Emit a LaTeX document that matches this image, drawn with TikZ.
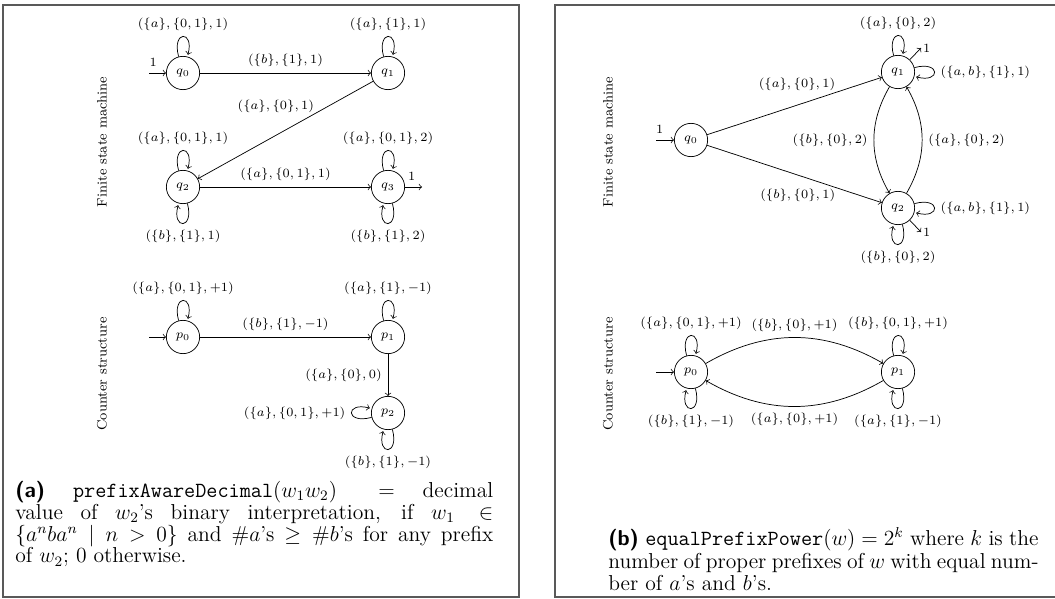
\documentclass[tikz,border=0pt]{standalone}
\usepackage{amssymb}
\begin{document}
\begin{tikzpicture}[x=0.5556pt, y=-0.5556pt,
  st/.style={circle, draw, minimum size=18.5pt, inner sep=0pt, font=\scriptsize},
  lbl/.style={font=\scriptsize},
  side/.style={font=\fontsize{7.6}{9}\selectfont, rotate=90},
  panel/.style={draw=black!65, line width=0.7pt},
  captext/.style={anchor=north west, inner sep=0pt, align=justify}]
\useasboundingbox (0,0) rectangle (1055,599);

% panel frames
\draw[panel] (3,5) rectangle (519,597);
\draw[panel] (555,5) rectangle (1062,597);

% ---- (a) finite state machine
\node[side] (fsma) at (102,142) {Finite state machine};
\node[st] (q0) at (183,73) {$q_0$};
\node[st] (q1) at (388,73) {$q_1$};
\node[st] (q2) at (183,187) {$q_2$};
\node[st] (q3) at (388,187) {$q_3$};
\coordinate (q0in) at (149,73);
\coordinate (q3out) at (422,187);

\draw[->] (q0in) -- node[lbl, above, pos=0.25] (i0) {1} (q0);
\draw[->] (q3) -- node[lbl, above, pos=0.4] (f3) {1} (q3out);
\draw[->] (q0) edge[loop above] node[lbl] (l00) {$(\{a\},\{0,1\},1)$} (q0);
\draw[->] (q1) edge[loop above] node[lbl] (l11) {$(\{a\},\{1\},1)$} (q1);
\draw[->] (q2) edge[loop above] node[lbl] (l22a) {$(\{a\},\{0,1\},1)$} (q2);
\draw[->] (q2) edge[loop below] node[lbl] (l22b) {$(\{b\},\{1\},1)$} (q2);
\draw[->] (q3) edge[loop above] node[lbl] (l33a) {$(\{a\},\{0,1\},2)$} (q3);
\draw[->] (q3) edge[loop below] node[lbl] (l33b) {$(\{b\},\{1\},2)$} (q3);
\draw[->] (q0) -- node[lbl, above] (l01) {$(\{b\},\{1\},1)$} (q1);
\draw[->] (q1) -- node[lbl, pos=0.33, anchor=south east, inner sep=0.5pt] (l12) {$(\{a\},\{0\},1)$} (q2);
\draw[->] (q2) -- node[lbl, above] (l23) {$(\{a\},\{0,1\},1)$} (q3);

% ---- (a) counter structure
\node[side] (csa) at (102,374) {Counter structure};
\node[st] (p0) at (183,337) {$p_0$};
\node[st] (p1) at (388,337) {$p_1$};
\node[st] (p2) at (388,413) {$p_2$};
\coordinate (p0in) at (149,337);

\draw[->] (p0in) -- (p0);
\draw[->] (p0) edge[loop above] node[lbl] (m00) {$(\{a\},\{0,1\},+1)$} (p0);
\draw[->] (p1) edge[loop above] node[lbl] (m11) {$(\{a\},\{1\},-1)$} (p1);
\draw[->] (p2) edge[loop left] node[lbl] (m22a) {$(\{a\},\{0,1\},+1)$} (p2);
\draw[->] (p2) edge[loop below] node[lbl] (m22b) {$(\{b\},\{1\},-1)$} (p2);
\draw[->] (p0) -- node[lbl, above] (m01) {$(\{b\},\{1\},-1)$} (p1);
\draw[->] (p1) -- node[lbl, left] (m12) {$(\{a\},\{0\},0)$} (p2);

\node[captext, text width=265.5pt, font=\fontsize{12}{12.1}\selectfont] (capa) at (15,481)
  {\textsf{\textbf{(a)}} \texttt{prefixAwareDecimal}$(w_1w_2) = $ decimal\linebreak
   value of $w_2$'s binary interpretation, if $w_1 \in$\linebreak
   $\{a^nba^n \mid n>0\}$ and $\#a$'s $\geq \#b$'s for any prefix\linebreak
   of $w_2$; 0 otherwise.};

% ---- (b) finite state machine
\node[side] (fsmb) at (608,142) {Finite state machine};
\node[st] (r0) at (691,140) {$q_0$};
\node[st] (r1) at (898,72) {$q_1$};
\node[st] (r2) at (898,208) {$q_2$};
\coordinate (r0in) at (656,140);
\coordinate (r1out) at (921,48);
\coordinate (r2out) at (921,232);

\draw[->] (r0in) -- node[lbl, above, pos=0.2] (j0) {1} (r0);
\draw[->] (r1) -- (r1out) node[lbl, right, inner sep=1pt] (g1) {1};
\draw[->] (r2) -- (r2out) node[lbl, right, inner sep=1pt] (g2) {1};
\draw[->] (r1) edge[loop above] node[lbl] (n11a) {$(\{a\},\{0\},2)$} (r1);
\draw[->] (r1) edge[loop right] node[lbl] (n11b) {$(\{a,b\},\{1\},1)$} (r1);
\draw[->] (r2) edge[loop right] node[lbl] (n22a) {$(\{a,b\},\{1\},1)$} (r2);
\draw[->] (r2) edge[loop below] node[lbl] (n22b) {$(\{b\},\{0\},2)$} (r2);
\draw[->] (r0) -- node[lbl, pos=0.74, anchor=south east, inner sep=0.5pt] (n01) {$(\{a\},\{0\},1)$} (r1);
\draw[->] (r0) -- node[lbl, pos=0.74, anchor=north east, inner sep=0.5pt] (n02) {$(\{b\},\{0\},1)$} (r2);
\draw[->] (r1) to[bend right=30] node[lbl, left] (n12) {$(\{b\},\{0\},2)$} (r2);
\draw[->] (r2) to[bend right=30] node[lbl, right] (n21) {$(\{a\},\{0\},2)$} (r1);

% ---- (b) counter structure
\node[side] (csb) at (608,374) {Counter structure};
\node[st] (s0) at (691,372) {$p_0$};
\node[st] (s1) at (898,372) {$p_1$};
\coordinate (s0in) at (656,372);

\draw[->] (s0in) -- (s0);
\draw[->] (s0) edge[loop above] node[lbl] (o00a) {$(\{a\},\{0,1\},+1)$} (s0);
\draw[->] (s0) edge[loop below] node[lbl] (o00b) {$(\{b\},\{1\},-1)$} (s0);
\draw[->] (s1) edge[loop above] node[lbl] (o11a) {$(\{b\},\{0,1\},+1)$} (s1);
\draw[->] (s1) edge[loop below] node[lbl] (o11b) {$(\{a\},\{1\},-1)$} (s1);
\draw[->] (s0) to[bend left=30] node[lbl, above] (o01) {$(\{b\},\{0\},+1)$} (s1);
\draw[->] (s1) to[bend left=30] node[lbl, below] (o10) {$(\{a\},\{0\},+1)$} (s0);

\node[captext, text width=239pt, font=\fontsize{12}{12.7}\selectfont] (capb) at (608,527)
  {\textsf{\textbf{(b)}} \texttt{equalPrefixPower}$(w) = 2^k$ where $k$ is the number of proper
   prefixes of $w$ with equal number of $a$'s and $b$'s.};
\end{tikzpicture}
\end{document}
